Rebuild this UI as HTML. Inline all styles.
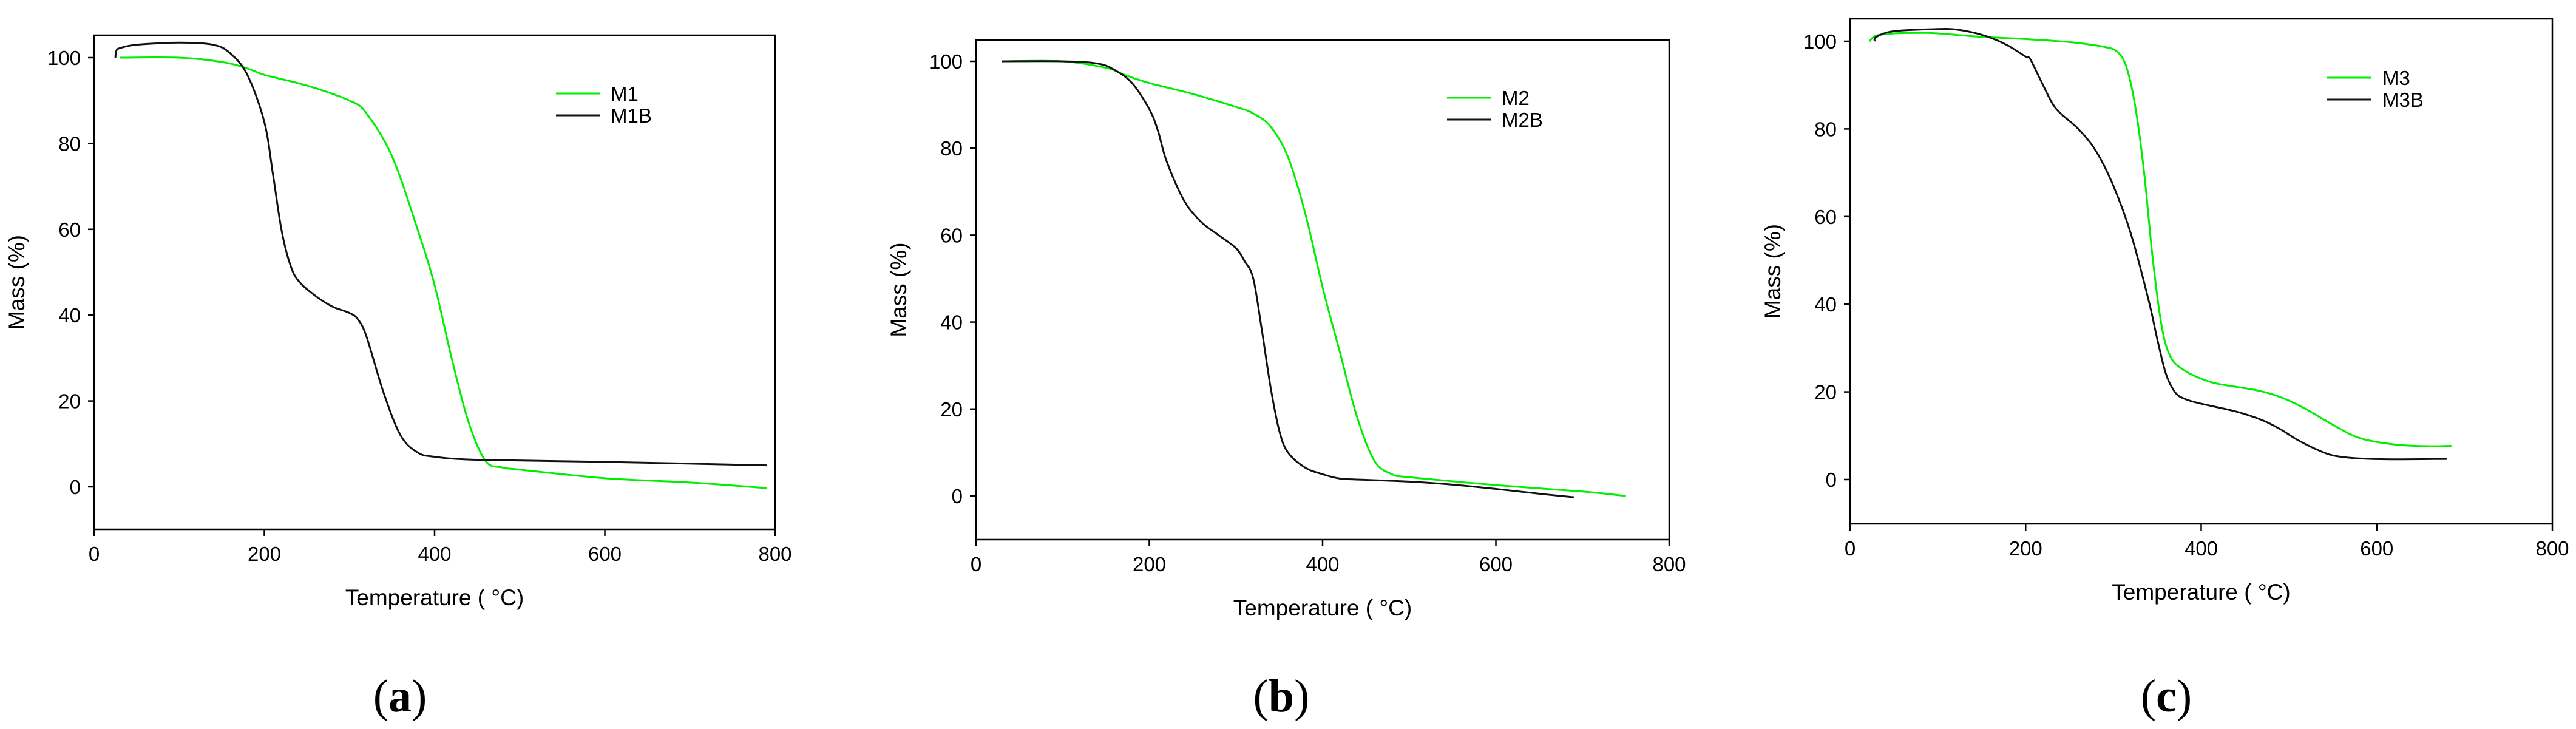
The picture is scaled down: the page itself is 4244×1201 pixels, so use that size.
<!DOCTYPE html>
<html><head><meta charset="utf-8"><style>
html,body{margin:0;padding:0;background:#fff;}
svg{display:block;font-family:"Liberation Sans",sans-serif;}
</style></head><body>
<svg id="fig" width="4244" height="1201" viewBox="0 0 4244 1201" xmlns="http://www.w3.org/2000/svg"></svg>
<script>
// ---- data ----
const xTicks = [0, 200, 400, 600, 800];
const yTicks = [0, 20, 40, 60, 80, 100];
const m1T  = [30,100,150,180,200,250,300,320,350,380,400,420,440,460,480,500,600,700,790];
const m1V  = [100,100,99,97.5,96,93.5,90,87,77,60,47,30,15,6,4.5,4,2,1,-0.3];
const m1bT = [25,26,30,50,100,140,160,180,200,210,220,230,240,260,280,300,310,320,340,360,380,400,450,600,790];
const m1bV = [100,101.5,102.2,103,103.5,103,101,96,85,73,60,52,48,44.5,42,40.5,39,35,22,12,8,7,6.3,5.8,5];
const m2T  = [30,100,150,170,200,250,300,320,340,360,380,400,420,440,460,480,500,600,700,750];
const m2V  = [100,100,98.5,97,95,92.5,89.5,88,85,78,65,48,33,18,8,5,4.3,2.5,1,0];
const m2bT = [30,100,140,160,180,200,210,220,240,260,280,300,310,320,330,340,350,360,380,400,420,450,500,550,600,650,690];
const m2bV = [100,100,99.5,98,95,89,84,77,68,63,60,57,54,50,38,25,15,10,6.5,5,4,3.7,3.3,2.6,1.6,0.5,-0.3];
const m3T  = [22,30,50,80,100,150,200,250,290,305,315,325,335,345,355,365,380,400,420,460,480,500,520,550,580,620,660,685];
const m3V  = [100,101.3,101.8,101.9,101.8,101,100.5,99.8,98.7,97.5,94,85,70,50,35,28,25,23,21.8,20.5,19.5,18,16,12.5,9.5,8,7.6,7.7];
const m3bT = [28,30,50,100,120,140,160,180,200,205,215,230,240,260,280,300,320,340,350,360,370,380,400,440,470,490,510,530,550,580,620,680];
const m3bV = [100,101,102.3,102.8,102.7,102,100.8,99,96.5,96,92,86,83.5,80,75,67,56,41,32,24,20,18.5,17.3,15.5,13.5,11.5,9,7,5.5,4.8,4.6,4.7];

const NS = "http://www.w3.org/2000/svg";
const svg = document.getElementById('fig');
function mk(tag, attrs, parent){ const e=document.createElementNS(NS,tag); for(const k in attrs) e.setAttribute(k,attrs[k]); (parent||svg).appendChild(e); return e; }
function smoothPath(P){
  let d='M'+P[0][0].toFixed(1)+','+P[0][1].toFixed(1);
  for(let i=0;i<P.length-1;i++){
    const p0=P[i-1]||P[i], p1=P[i], p2=P[i+1], p3=P[i+2]||P[i+1];
    const c1=[p1[0]+(p2[0]-p0[0])/6, p1[1]+(p2[1]-p0[1])/6];
    const c2=[p2[0]-(p3[0]-p1[0])/6, p2[1]-(p3[1]-p1[1])/6];
    d+=' C'+c1[0].toFixed(1)+','+c1[1].toFixed(1)+' '+c2[0].toFixed(1)+','+c2[1].toFixed(1)+' '+p2[0].toFixed(1)+','+p2[1].toFixed(1);
  }
  return d;
}

const panels = [
 {id:'a', x0:155, x1:1277, yTop:58, yBot:872, y100:95, y0:802, series:[[m1T,m1V,'#00ee00','M1'],[m1bT,m1bV,'#111','M1B']], leg:[916,988,154,1006], lab:659},
 {id:'b', x0:1608, x1:2750, yTop:66, yBot:889, y100:101, y0:817, series:[[m2T,m2V,'#00ee00','M2'],[m2bT,m2bV,'#111','M2B']], leg:[2384,2456,161,2474], lab:2111},
 {id:'c', x0:3048, x1:4205, yTop:31, yBot:863, y100:68, y0:790, series:[[m3T,m3V,'#00ee00','M3'],[m3bT,m3bV,'#111','M3B']], leg:[3834,3907,128,3925], lab:3569}
];

panels.forEach(p=>{
  const g = mk('g',{});
  
  
  const xs = t => p.x0 + (t/800)*(p.x1-p.x0);
  const ys = v => p.y0 - (v/100)*(p.y0-p.y100);
  const frame = mk('rect',{x:p.x0,y:p.yTop,width:p.x1-p.x0,height:p.yBot-p.yTop,fill:'none',stroke:'#000','stroke-width':2.5},g);
  
  
  xTicks.forEach(t=>{
    const x=xs(t);
    const tk=mk('line',{x1:x,x2:x,y1:p.yBot,y2:p.yBot+11,stroke:'#000','stroke-width':2.5},g);
    
    
    const tl=mk('text',{x:x,y:p.yBot+52,'font-size':33,'text-anchor':'middle',fill:'#000'},g);
    tl.textContent=t;
    
    
  });
  yTicks.forEach(v=>{
    const y=ys(v);
    const tk=mk('line',{x1:p.x0-10,x2:p.x0,y1:y,y2:y,stroke:'#000','stroke-width':2.5},g);
    
    
    const tl=mk('text',{x:p.x0-22,y:y+12,'font-size':33,'text-anchor':'end',fill:'#000'},g);
    tl.textContent=v;
    
    
  });
  const xt=mk('text',{x:(p.x0+p.x1)/2,y:p.yBot+125,'font-size':37,'text-anchor':'middle',fill:'#000'},g);
  xt.textContent='Temperature ( °C)';
  
  
  const ycx=p.x0-115, ycy=(p.yTop+p.yBot)/2;
  const yt=mk('text',{x:ycx,y:ycy,'font-size':37,'text-anchor':'middle',fill:'#000',transform:`rotate(-90 ${ycx} ${ycy})`},g);
  yt.textContent='Mass (%)';
  
  
  p.series.forEach((s,i)=>{
    const [T,V,col,name]=s;
    const P=T.map((t,k)=>[xs(t),ys(V[k])]);
    const pl=mk('path',{d:smoothPath(P),fill:'none',stroke:col,'stroke-width':3,'stroke-linejoin':'round'},g);
    
    
    const ly=p.leg[2]+i*36;
    const ll=mk('line',{x1:p.leg[0],x2:p.leg[1],y1:ly,y2:ly,stroke:col,'stroke-width':3},g);
    
    
    const lt=mk('text',{x:p.leg[3],y:ly+12,'font-size':33,fill:'#000'},g);
    lt.textContent=name;
    
    
  });
  const lab=mk('text',{x:p.lab,y:1172,'font-size':76,'text-anchor':'middle',fill:'#000','font-family':'"Liberation Serif",serif'},g);
  lab.innerHTML='(<tspan font-weight="bold">'+p.id+'</tspan>)';
  
  
});
</script>
</body></html>
